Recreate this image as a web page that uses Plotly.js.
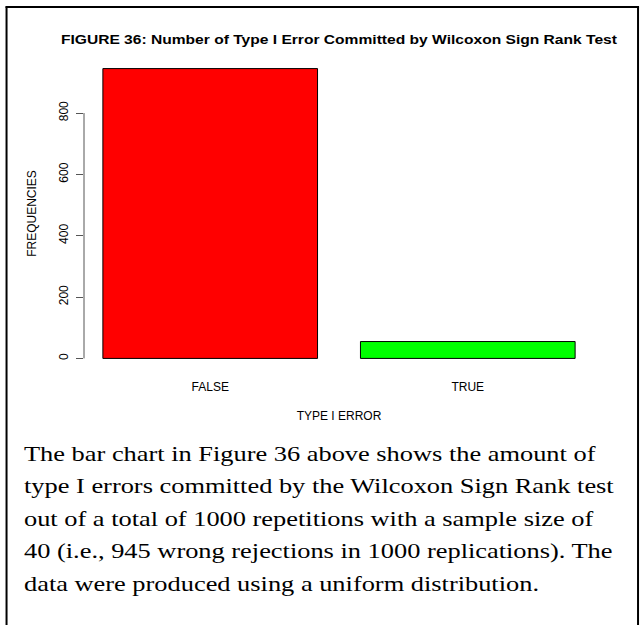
<!DOCTYPE html>
<html>
<head>
<meta charset="utf-8">
<script src="https://cdn.plot.ly/plotly-3.0.1.min.js"></script>
<style>
html,body{margin:0;padding:0;background:#fff;}
#chart{width:642px;height:625px;}
</style>
</head>
<body>
<div id="chart"></div>
<script>
// ---- data ----
const categories = ["FALSE", "TRUE"];
const frequencies = [945, 55];
const barColors = ["#ff0000", "#00ff00"];
const yTickValues = [0, 200, 400, 600, 800];
const chartTitle = "FIGURE 36: Number of Type I Error Committed by Wilcoxon Sign Rank Test";
const xTitle = "TYPE I ERROR";
const yTitle = "FREQUENCIES";
const paragraphLines = [
  "The bar chart in Figure 36 above shows the amount of",
  "type I errors committed by the Wilcoxon Sign Rank test",
  "out of a total of 1000 repetitions with a sample size of",
  "40 (i.e., 945 wrong rejections in 1000 replications). The",
  "data were produced using a uniform distribution."
];

// ---- layout geometry ----
const W = 642, H = 625;
const M = {l: 84.4, r: 48, t: 56.6, b: 255};
const plotW = W - M.l - M.r, plotH = H - M.t - M.b;
const px2x = p => (p - M.l) / plotW;
const px2y = p => (H - M.b - p) / plotH;
const STRETCH = 1.2; // reference text is horizontally stretched

const ymax = Math.max(...frequencies);
const yRange = [-0.04 * ymax, 1.04 * ymax];

const font = "Liberation Sans, Arial, sans-serif";
const serif = "Liberation Serif, Times New Roman, serif";

const trace = {
  type: "bar",
  x: categories,
  y: frequencies,
  marker: {color: barColors, line: {color: "#000", width: 1}},
  hoverinfo: "x+y"
};

const shapes = [
  {type: "line", xref: "paper", yref: "y", x0: 0, x1: 0,
   y0: yTickValues[0], y1: yTickValues[yTickValues.length - 1],
   line: {color: "#555", width: 1}},
  {type: "line", xref: "paper", yref: "paper", x0: px2x(7), x1: px2x(7), y0: px2y(6), y1: px2y(626), line: {color: "#000", width: 2}},
  {type: "line", xref: "paper", yref: "paper", x0: px2x(6), x1: px2x(639), y0: px2y(6.5), y1: px2y(6.5), line: {color: "#000", width: 2}},
  {type: "line", xref: "paper", yref: "paper", x0: px2x(638), x1: px2x(638), y0: px2y(6), y1: px2y(626), line: {color: "#000", width: 2}}
];

const baselines = [460.5, 493, 525.5, 558, 590.5];
const annotations = paragraphLines.map((t, i) => ({
  text: t, showarrow: false, xref: "paper", yref: "paper",
  x: px2x(22), y: px2y(baselines[i] - 7), xanchor: "left", yanchor: "middle",
  align: "left", font: {family: serif, size: 22, color: "#000"}
}));

const layout = {
  width: W, height: H,
  margin: M,
  paper_bgcolor: "#fff", plot_bgcolor: "#fff",
  showlegend: false,
  bargap: 0.2 / 1.2,
  title: {
    text: "<b>" + chartTitle + "</b>",
    font: {family: font, size: 13, color: "#000"},
    xref: "paper", x: 0.5, xanchor: "center",
    yref: "container", y: 1 - 39 / H, yanchor: "middle"
  },
  xaxis: {
    type: "category",
    range: [-0.49, 1.49],
    showline: false, showgrid: false, zeroline: false,
    ticks: "", ticklabelstandoff: 8,
    tickfont: {family: font, size: 12, color: "#000"},
    title: {text: xTitle, font: {family: font, size: 12, color: "#000"}, standoff: 18}
  },
  yaxis: {
    range: yRange,
    tickvals: yTickValues,
    showline: false, showgrid: false, zeroline: false,
    ticks: "outside", ticklen: 7, tickcolor: "#555", tickwidth: 1,
    tickangle: -90, ticklabelstandoff: 3,
    tickfont: {family: font, size: 12, color: "#000"},
    title: {text: yTitle, font: {family: font, size: 12, color: "#000"}, standoff: 18}
  },
  shapes: shapes,
  annotations: annotations
};

function stretch(el, anchor) {
  const bb = el.getBBox();
  const cx = anchor === "left" ? bb.x : bb.x + bb.width / 2;
  const old = el.getAttribute("transform") || "";
  el.setAttribute("transform", old + " translate(" + cx + ",0) scale(" + STRETCH + ",1) translate(" + (-cx) + ",0)");
}

Plotly.newPlot("chart", [trace], layout, {displayModeBar: false, staticPlot: true}).then(gd => {
  gd.querySelectorAll(".annotation-text").forEach(el => stretch(el, "left"));
  gd.querySelectorAll(".gtitle").forEach(el => stretch(el, "center"));
});
</script>
</body>
</html>
